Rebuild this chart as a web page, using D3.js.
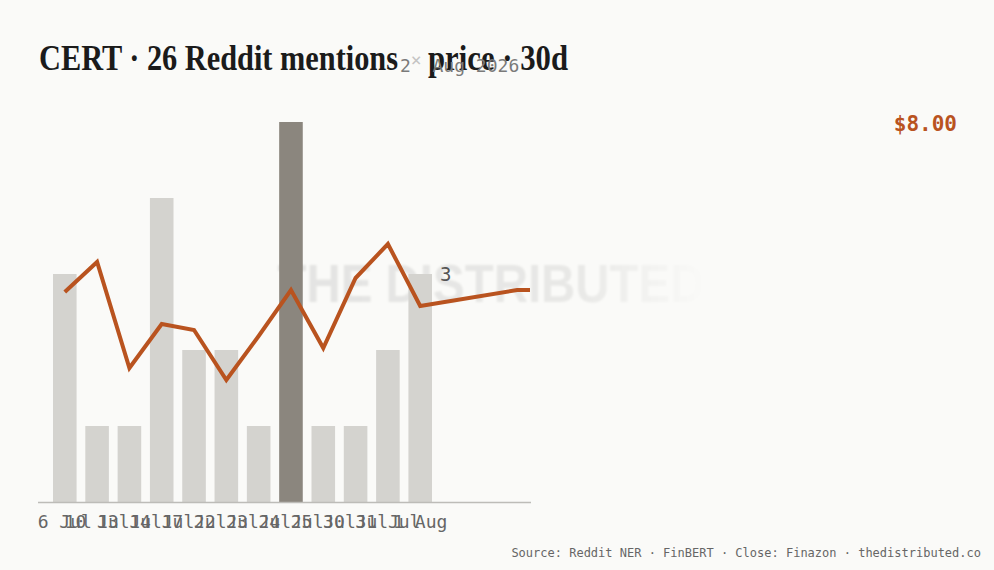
<!DOCTYPE html>
<html><head><meta charset="utf-8">
<script src="https://cdn.jsdelivr.net/npm/d3@7"></script>
<style>
html,body{margin:0;padding:0;background:#fafaf8;}
svg{display:block}
</style></head><body>
<svg id="c" width="994" height="570"></svg>
<script>
// ---- data ----
const days = ["6 Jul","10 Jul","13 Jul","14 Jul","17 Jul","22 Jul","23 Jul","24 Jul","25 Jul","30 Jul","31 Jul","1 Aug"];
const mentions = [3,1,1,4,2,2,1,5,1,1,2,3];
const priceSlots = days.concat(["2 Aug","3 Aug","4 Aug"]);
const priceDays = ["6 Jul","10 Jul","13 Jul","14 Jul","17 Jul","22 Jul","23 Jul","24 Jul","25 Jul","30 Jul","31 Jul","1 Aug","4 Aug"];
const closes = [7.99,8.14,7.61,7.83,7.80,7.55,7.77,8.00,7.71,8.06,8.23,7.92,8.00];
const lastClose = 8.00;
const titleMain = "CERT · 26 Reddit mentions";
const titleTail = "price · 30d";
const asOf = ["2", "×", "Aug 2026"];
const footer = "Source: Reddit NER · FinBERT · Close: Finazon · thedistributed.co";

const svg = d3.select("#c");
svg.append("rect").attr("width",994).attr("height",570).attr("fill","#fafaf8");

const plotLeft = 38, plotRight = 531, plotBottom = 502;

const xBand = d3.scaleBand().domain(days).range([38, 447]).paddingInner(0.27).paddingOuter(0.464);
const x0 = xBand(days[0]) + xBand.bandwidth()/2;
const xLine = d3.scalePoint().domain(priceSlots).range([x0, x0 + xBand.step()*(priceSlots.length-1)]);
const yCount = d3.scaleLinear().domain([0,5]).range([plotBottom,122]);
const yPrice = d3.scaleLinear().domain([7.4,8.6]).range([410,170]);

// watermark
const defs = svg.append("defs");
const g1 = defs.append("linearGradient").attr("id","wm").attr("x1","0").attr("x2","1").attr("y1","0").attr("y2","0");
g1.append("stop").attr("offset","0").attr("stop-color","#000").attr("stop-opacity",0.09);
g1.append("stop").attr("offset","0.7").attr("stop-color","#000").attr("stop-opacity",0.07);
g1.append("stop").attr("offset","1").attr("stop-color","#000").attr("stop-opacity",0.0);
defs.append("filter").attr("id","blur").append("feGaussianBlur").attr("stdDeviation",1.2);
svg.append("text").attr("x",491).attr("y",302).attr("text-anchor","middle")
  .attr("font-family","Liberation Sans, Arial, sans-serif").attr("font-weight","bold")
  .attr("font-size",53).attr("textLength",427).attr("lengthAdjust","spacingAndGlyphs")
  .attr("fill","url(#wm)").attr("filter","url(#blur)").text("THE DISTRIBUTED");

// title
svg.append("text").attr("x",39).attr("y",70)
  .attr("font-family","Liberation Serif, Times New Roman, serif").attr("font-weight","bold")
  .attr("font-size",36).attr("fill","#1b1b1b").attr("textLength",359).attr("lengthAdjust","spacingAndGlyphs")
  .text(titleMain);
svg.append("text").attr("x",428).attr("y",70)
  .attr("font-family","Liberation Serif, Times New Roman, serif").attr("font-weight","bold")
  .attr("font-size",36).attr("fill","#1b1b1b").attr("textLength",140).attr("lengthAdjust","spacingAndGlyphs")
  .text(titleTail);
const ao = svg.append("text").attr("x",400).attr("y",72)
  .attr("font-family","DejaVu Sans Mono, monospace").attr("font-size",18).attr("fill","#7a7a7a");
ao.append("tspan").text(asOf[0]);
ao.append("tspan").attr("fill","#c4c4c4").attr("dy",-6).text(asOf[1]);
ao.append("tspan").attr("dy",6).text(" " + asOf[2]);

// bars
const maxV = d3.max(mentions);
svg.append("g").selectAll("rect").data(days).join("rect")
  .attr("x", d => xBand(d))
  .attr("width", xBand.bandwidth())
  .attr("y", (d,i) => yCount(mentions[i]))
  .attr("height", (d,i) => plotBottom - yCount(mentions[i]))
  .attr("fill", (d,i) => mentions[i] === maxV ? "#8b867e" : "#d4d3cf");

// axis
svg.append("line").attr("x1",plotLeft).attr("x2",plotRight).attr("y1",plotBottom+0.5).attr("y2",plotBottom+0.5)
  .attr("stroke","#bdbcb8").attr("stroke-width",1.5);
const ax = svg.append("g").attr("transform",`translate(0,${plotBottom})`)
  .call(d3.axisBottom(xBand).tickSize(0).tickPadding(13));
ax.select(".domain").remove();
ax.selectAll("text").attr("font-family","DejaVu Sans Mono, monospace").attr("font-size",18).attr("fill","#666");

// price line
const pts = priceDays.map((d,i) => [xLine(d), yPrice(closes[i])]);
pts.push([plotRight - 1, yPrice(lastClose)]);
svg.append("path").attr("d", d3.line()(pts)).attr("fill","none")
  .attr("stroke","#b9531f").attr("stroke-width",4).attr("stroke-linejoin","miter");

// last bar value label
const lastDay = days[days.length-1];
svg.append("text").attr("x", xBand(lastDay) + xBand.bandwidth() + 8)
  .attr("y", yCount(mentions[mentions.length-1]) + 7)
  .attr("font-family","DejaVu Sans Mono, monospace").attr("font-size",19).attr("fill","#555")
  .text(mentions[mentions.length-1]);

// price label
svg.append("text").attr("x",957).attr("y",131).attr("text-anchor","end")
  .attr("font-family","DejaVu Sans Mono, monospace").attr("font-weight","bold").attr("font-size",21)
  .attr("fill","#b9531f").text(d3.format("$.2f")(lastClose));

// footer
svg.append("text").attr("x",981).attr("y",557).attr("text-anchor","end")
  .attr("font-family","DejaVu Sans Mono, monospace").attr("font-size",12).attr("fill","#666")
  .text(footer);
</script>
</body></html>
